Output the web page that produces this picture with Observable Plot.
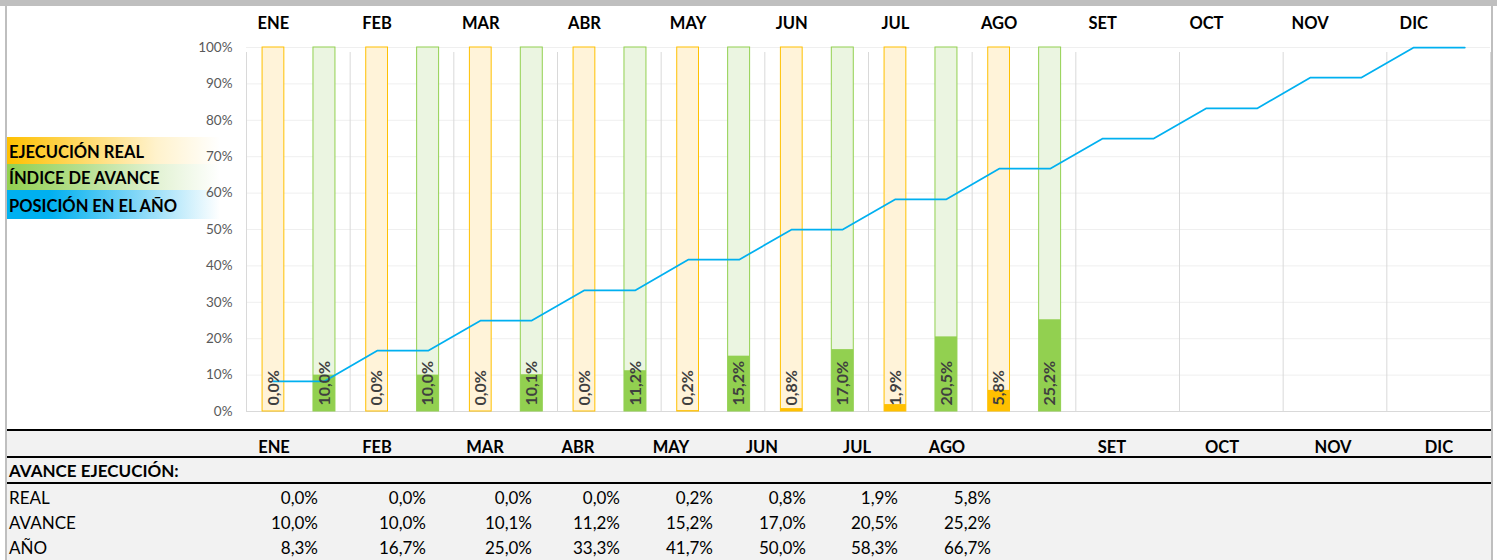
<!DOCTYPE html>
<html><head><meta charset="utf-8">
<script src="https://cdn.jsdelivr.net/npm/d3@7"></script>
<script src="https://cdn.jsdelivr.net/npm/@observablehq/plot@0.6"></script>
<style>
html,body{margin:0;padding:0;background:#fff;}
body{width:1497px;height:560px;position:relative;overflow:hidden;font-family:Lato,"Open Sans",sans-serif;color:#000;}
#chart{position:absolute;left:0;top:0;z-index:2;}
.abs{position:absolute;white-space:nowrap;line-height:1;}
</style></head><body>
<div id="legend"></div>
<div id="tablebg"></div>
<div id="chart"></div>
<div id="table"></div>
<div id="frame"></div>
<script>
// ---------- data ----------
const months = ["ENE","FEB","MAR","ABR","MAY","JUN","JUL","AGO","SET","OCT","NOV","DIC"];
const real   = [0.0, 0.0, 0.0, 0.0, 0.2, 0.8, 1.9, 5.8];
const avance = [10.0, 10.0, 10.1, 11.2, 15.2, 17.0, 20.5, 25.2];
const anio   = [8.3, 16.7, 25.0, 33.3, 41.7, 50.0, 58.3, 66.7, 75.0, 83.3, 91.7, 100.0];
const yTicks = [0, 10, 20, 30, 40, 50, 60, 70, 80, 90, 100];
const legendItems = ["EJECUCIÓN REAL", "ÍNDICE DE AVANCE", "POSICIÓN EN EL AÑO"];
const tableTitle = "AVANCE EJECUCIÓN:";
const rowLabels = ["REAL", "AVANCE", "AÑO"];

// ---------- layout ----------
const YEL = [0.155, 0.365], GRN = [0.646, 0.858];
const YC = (YEL[0] + YEL[1]) / 2, GC = (GRN[0] + GRN[1]) / 2;
const headerCenters = [274, 377, 485, 578, 671, 762, 857, 947, 1112, 1222, 1333, 1439];
const valueRights = [318, 426, 532, 620, 713, 806, 898, 991];
const rowCenters = [497, 522, 547];
const fmt = v => v.toFixed(1).replace(".", ",") + "%";

const cols = d3.range(months.length);
const active = d3.range(real.length);
const linePts = cols.flatMap(i => [{x: i + YC, y: anio[i]}, {x: i + GC, y: anio[i]}]);

const plot = Plot.plot({
  width: 1497, height: 431,
  marginLeft: 246, marginRight: 7, marginTop: 47, marginBottom: 20,
  style: {fontFamily: "Lato, sans-serif", background: "transparent", overflow: "visible"},
  x: {domain: [0, 12], axis: null},
  y: {domain: [0, 100], axis: null},
  marks: [
    Plot.ruleY(yTicks.filter(d => d > 0), {stroke: "#efefef"}),
    Plot.ruleX(d3.range(13), {y1: 0, y2: 100, stroke: "#d9d9d9", insetBottom: -5}),
    Plot.ruleY([0], {stroke: "#d9d9d9"}),
    Plot.rect(active, {x1: i => i + YEL[0], x2: i => i + YEL[1], y1: 0, y2: 100, fill: "#fff3d9", stroke: "#ffc000", strokeWidth: 1}),
    Plot.rect(active, {x1: i => i + YEL[0], x2: i => i + YEL[1], y1: 0, y2: i => real[i], fill: "#ffc000"}),
    Plot.rect(active, {x1: i => i + GRN[0], x2: i => i + GRN[1], y1: 0, y2: 100, fill: "#ebf5e1", stroke: "#92d050", strokeWidth: 1}),
    Plot.rect(active, {x1: i => i + GRN[0], x2: i => i + GRN[1], y1: 0, y2: i => avance[i], fill: "#92d050"}),
    Plot.line(linePts, {x: "x", y: "y", stroke: "#00b0f0", strokeWidth: 1.75}),
    Plot.text(active, {x: i => i + YC, y: 0, text: i => fmt(real[i]), rotate: -90, textAnchor: "start", dy: -6, fontWeight: "bold", fontSize: 16, fill: "#3f3f3f"}),
    Plot.text(active, {x: i => i + GC, y: 0, text: i => fmt(avance[i]), rotate: -90, textAnchor: "start", dy: -6, fontWeight: "bold", fontSize: 16, fill: "#3f3f3f"}),
    Plot.text(cols, {x: i => i + YC, y: 100, text: i => months[i], dy: -24, fontWeight: "bold", fontSize: 16.5, fill: "#000"}),
    Plot.axisY(yTicks, {tickSize: 0, tickPadding: 14, tickFormat: d => d + "%", fontSize: 13.5, color: "#595959", label: null})
  ]
});
document.getElementById("chart").append(plot);

function place(parent, text, x, yc, align, style) {
  const d = document.createElement("div");
  d.className = "abs";
  d.textContent = text;
  const tx = align === "right" ? "-100%" : align === "center" ? "-50%" : "0";
  d.style.left = x + "px";
  d.style.top = yc + "px";
  d.style.transform = `translate(${tx},-50%)`;
  Object.assign(d.style, style || {});
  parent.append(d);
  return d;
}
function box(parent, x, y, w, h, bg, z) {
  const d = document.createElement("div");
  d.className = "abs";
  Object.assign(d.style, {left: x + "px", top: y + "px", width: w + "px", height: h + "px", background: bg, zIndex: z || 0});
  parent.append(d);
  return d;
}

// legend
const lg = document.getElementById("legend");
const grads = [
  "linear-gradient(to right,#ffc000 0%,#ffd966 35%,#fff2cc 70%,#ffffff 100%)",
  "linear-gradient(to right,#92d050 0%,#b5df8f 35%,#e2f2d3 70%,#ffffff 100%)",
  "linear-gradient(to right,#00b0f0 0%,#00b0f0 20%,#7fd6f7 60%,#ffffff 100%)"
];
const lgTops = [137, 164, 190], lgH = [27, 26, 29];
legendItems.forEach((t, k) => {
  box(lg, 7, lgTops[k], 213, lgH[k], grads[k], 0);
  place(lg, t, 9, lgTops[k] + lgH[k] / 2 + 1, "left", {fontWeight: "bold", fontSize: "16.5px", zIndex: 1});
});

// table
const tb = document.getElementById("table");
box(document.getElementById("tablebg"), 7, 431, 1484, 129, "#f2f2f2", 0);
box(tb, 5, 429, 1486, 2, "#000", 3);
box(tb, 5, 456, 1486, 2, "#000", 3);
box(tb, 5, 482, 1486, 2, "#000", 3);
months.forEach((m, i) => place(tb, m, headerCenters[i], 447, "center", {fontWeight: "bold", fontSize: "16.5px", zIndex: 3}));
place(tb, tableTitle, 9, 470, "left", {fontWeight: "bold", fontSize: "17px", zIndex: 3});
const rows = [real, avance, anio.slice(0, real.length)];
rows.forEach((arr, r) => {
  place(tb, rowLabels[r], 9, rowCenters[r], "left", {fontSize: "17px", zIndex: 3});
  arr.forEach((v, i) => place(tb, fmt(v), valueRights[i], rowCenters[r], "right", {fontSize: "17px", zIndex: 3}));
});

// frame
const fr = document.getElementById("frame");
box(fr, 0, 0, 1497, 6, "#bfbfbf", 5);
box(fr, 5, 0, 2, 560, "#bfbfbf", 5);
box(fr, 1491, 0, 2, 560, "#bfbfbf", 5);
</script>
</body></html>
